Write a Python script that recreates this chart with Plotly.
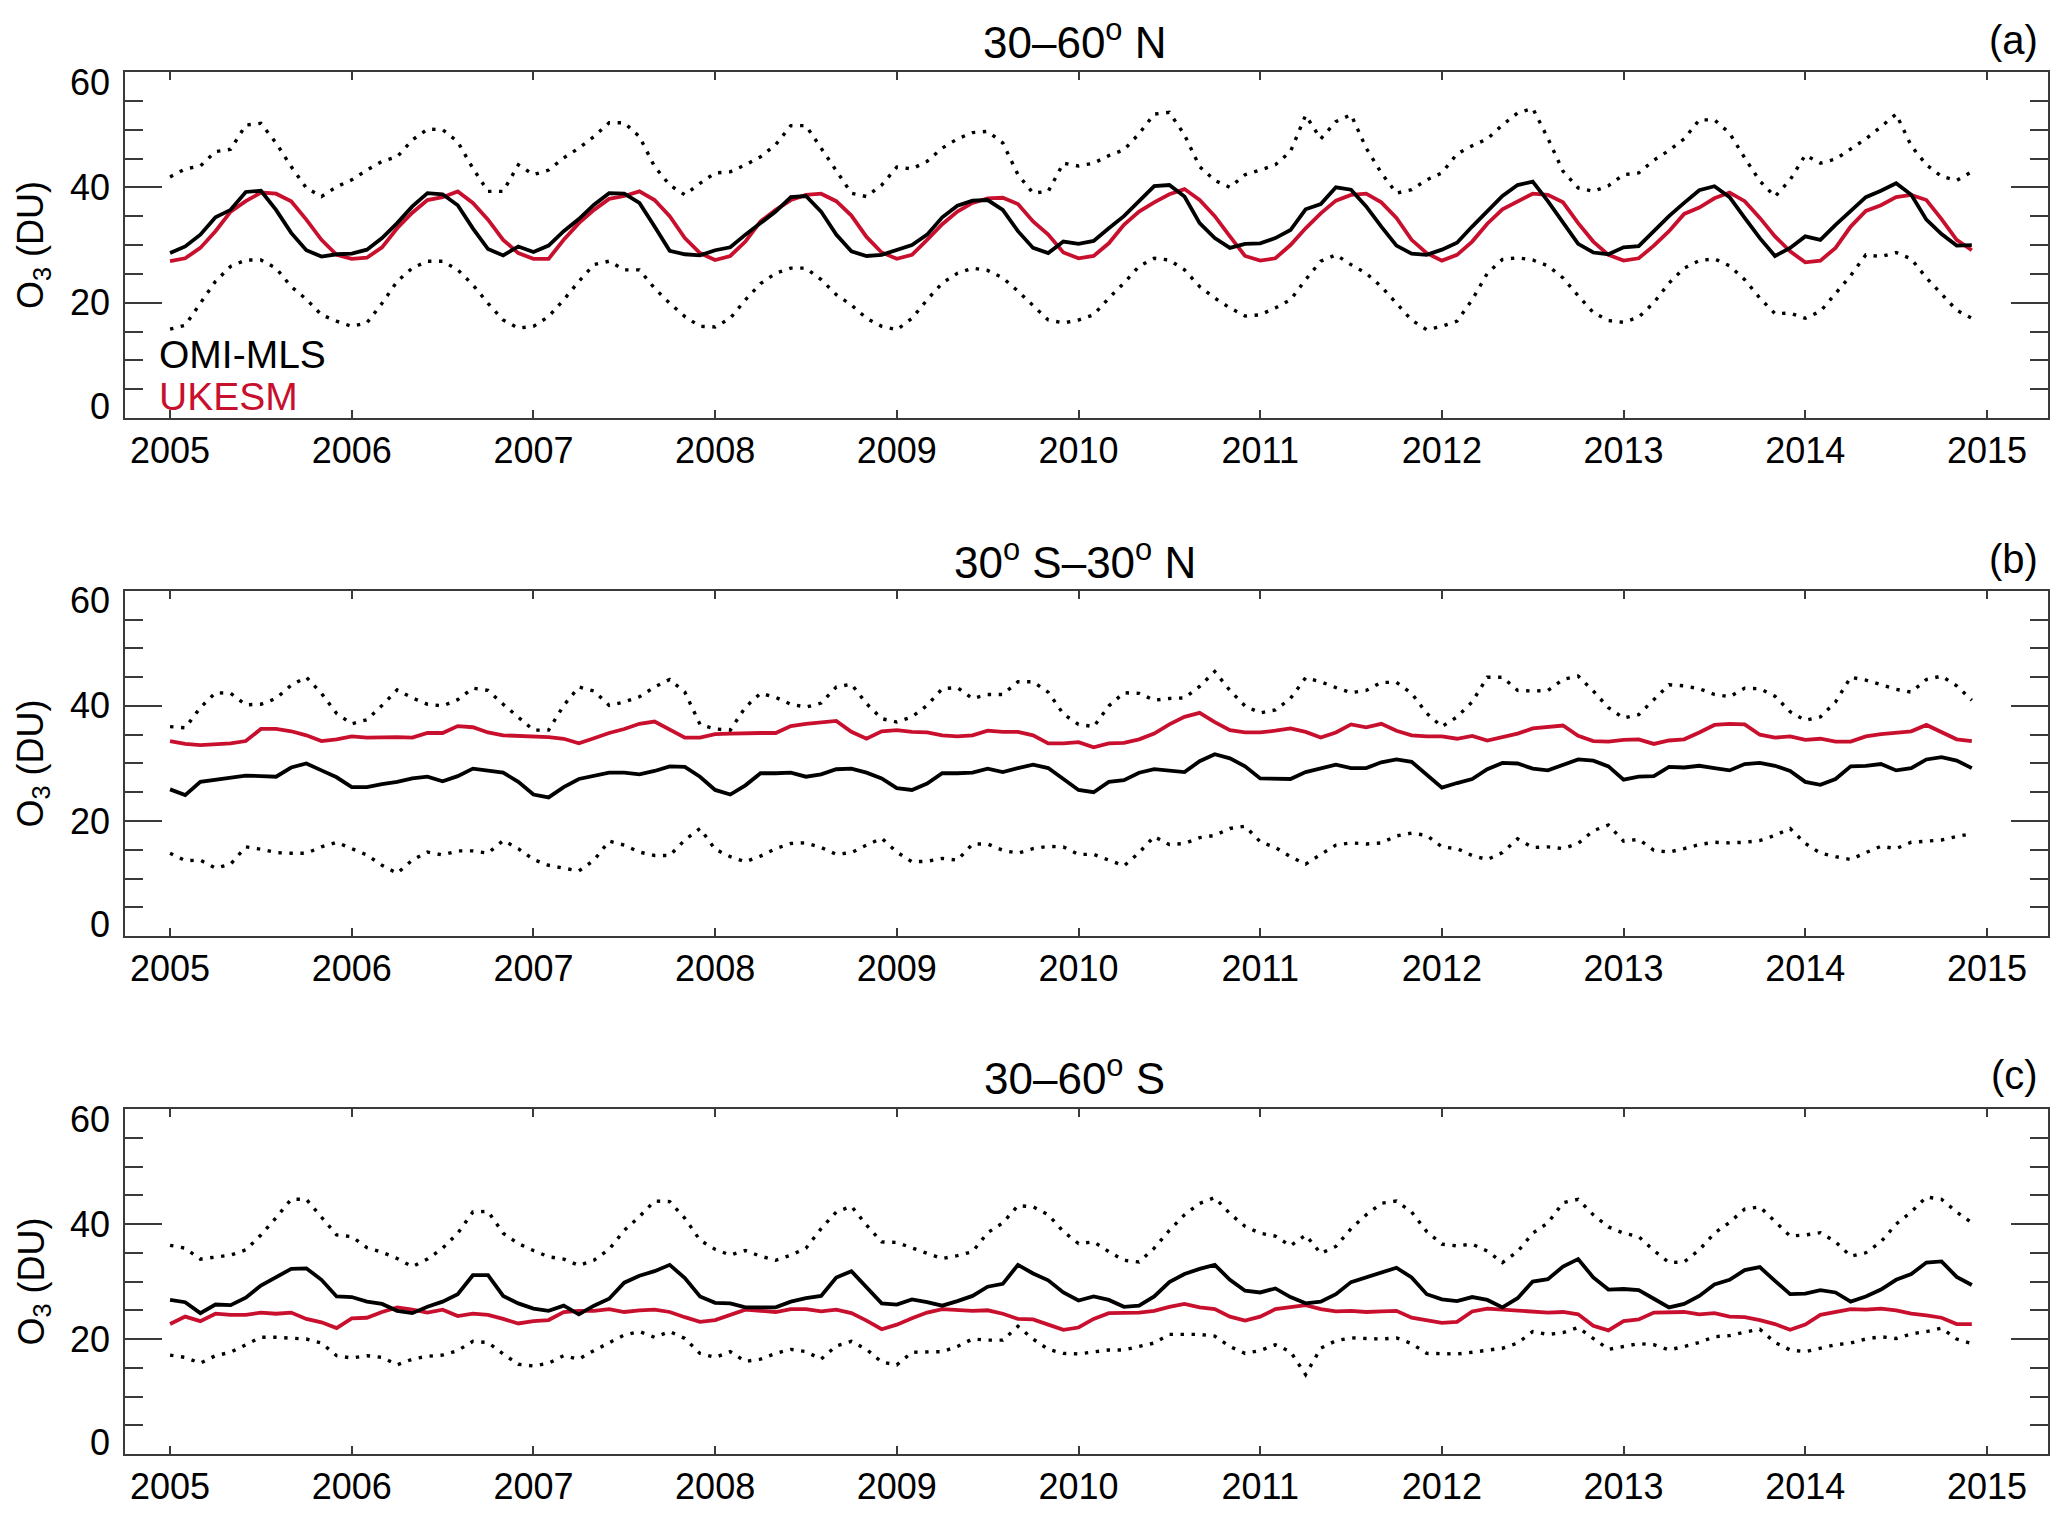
import plotly.graph_objects as go

# ---------------- data (monthly, Jan 2005 - Dec 2014) ----------------
months = [2005 + i / 12 for i in range(120)]
year_ticks = [2005, 2006, 2007, 2008, 2009, 2010, 2011, 2012, 2013, 2014, 2015]
year_labels = [str(y) for y in year_ticks]
y_ticks = [0, 20, 40, 60]

titles = ["30–60<sup>o</sup> N", "30<sup>o</sup> S–30<sup>o</sup> N", "30–60<sup>o</sup> S"]
panel_tags = ["(a)", "(b)", "(c)"]

# Panel (a) 30-60N
a_obs = [28.6, 29.75, 31.8, 34.8, 36.1, 39.2, 39.4, 36.1, 32.1, 29.1, 28.0, 28.4,
         28.5, 29.2, 31.2, 33.8, 36.7, 39.0, 38.8, 36.9, 32.9, 29.3, 28.2, 29.75,
         28.8, 29.9, 32.4, 34.5, 37.0, 39.0, 38.9, 37.3, 33.2, 29.0, 28.4, 28.2,
         29.1, 29.6, 31.8, 33.8, 35.8, 38.3, 38.5, 35.8, 31.8, 28.9, 28.1, 28.3,
         29.2, 30.0, 31.8, 34.8, 36.8, 37.7, 37.8, 36.1, 32.4, 29.5, 28.6, 30.6,
         30.2, 30.7, 32.9, 35.0, 37.6, 40.2, 40.4, 38.4, 33.8, 31.2, 29.5, 30.2,
         30.3, 31.2, 32.6, 36.2, 37.1, 40.0, 39.6, 36.7, 33.2, 29.9, 28.5, 28.3,
         29.2, 30.4, 33.2, 35.8, 38.5, 40.4, 41.0, 37.6, 33.8, 30.2, 28.7, 28.4,
         29.6, 29.8, 32.4, 35.0, 37.3, 39.5, 40.2, 38.3, 34.7, 31.2, 28.1, 29.5,
         31.5, 30.9, 33.5, 35.8, 38.3, 39.4, 40.7, 38.7, 34.4, 31.9, 29.9, 30.0]
a_mod = [27.2, 27.7, 29.5, 32.4, 35.8, 37.6, 39.1, 38.9, 37.6, 34.4, 30.9, 28.3,
         27.6, 27.8, 29.6, 32.9, 35.6, 37.8, 38.3, 39.3, 37.3, 34.4, 30.9, 28.6,
         27.6, 27.6, 30.9, 33.8, 36.1, 38.0, 38.5, 39.3, 37.8, 35.0, 31.2, 28.6,
         27.4, 28.1, 30.6, 34.1, 36.1, 37.8, 38.7, 38.9, 37.6, 35.1, 31.4, 28.7,
         27.6, 28.3, 30.9, 33.6, 35.8, 37.3, 38.1, 38.2, 37.1, 34.1, 31.8, 28.7,
         27.7, 28.1, 30.3, 33.5, 35.8, 37.4, 38.8, 39.7, 37.8, 35.0, 31.5, 28.1,
         27.3, 27.7, 30.0, 32.9, 35.5, 37.7, 38.7, 38.9, 37.4, 34.7, 30.9, 28.6,
         27.3, 28.3, 30.6, 33.7, 36.2, 37.6, 38.9, 38.7, 37.4, 33.8, 30.6, 28.3,
         27.3, 27.7, 29.9, 32.4, 35.4, 36.5, 38.1, 39.1, 37.6, 34.7, 31.5, 28.9,
         27.0, 27.3, 29.5, 33.2, 35.9, 36.9, 38.3, 38.7, 37.8, 34.5, 30.9, 29.1]
a_hi = [41.8, 43.2, 43.7, 46.2, 46.6, 50.8, 51.1, 47.7, 43.6, 39.9, 38.4, 40.1,
        41.3, 43.0, 44.5, 45.3, 48.2, 50.1, 50.0, 47.9, 43.3, 39.3, 39.3, 43.9,
        42.2, 43.0, 45.1, 46.8, 48.8, 51.2, 51.2, 48.8, 43.6, 40.4, 38.7, 40.7,
        42.5, 42.7, 43.9, 45.3, 47.4, 50.7, 50.7, 46.8, 43.0, 39.0, 38.4, 40.4,
        43.5, 43.2, 44.5, 46.8, 48.4, 49.5, 49.7, 47.7, 42.2, 39.0, 39.3, 44.2,
        43.7, 44.2, 45.5, 46.5, 49.3, 52.7, 53.0, 49.1, 43.6, 41.2, 40.0, 42.2,
        43.0, 43.9, 46.2, 52.5, 48.4, 51.4, 52.6, 46.8, 42.5, 39.0, 39.6, 41.3,
        42.5, 45.8, 47.2, 48.4, 50.8, 52.9, 53.7, 48.5, 42.8, 39.9, 39.3, 40.3,
        42.2, 42.5, 44.7, 46.4, 48.4, 51.7, 51.7, 49.4, 45.1, 41.1, 38.4, 41.3,
        45.6, 44.2, 44.9, 46.6, 48.4, 50.5, 52.7, 47.2, 43.9, 41.9, 41.2, 42.7]
a_lo = [15.4, 16.1, 19.9, 23.7, 26.3, 27.4, 27.4, 26.0, 22.8, 20.6, 17.9, 16.8,
        15.9, 16.5, 19.9, 23.7, 26.0, 27.2, 27.2, 25.7, 23.1, 19.9, 17.0, 15.6,
        15.9, 17.6, 20.5, 23.7, 26.6, 27.2, 25.7, 25.7, 22.5, 19.9, 17.6, 15.9,
        15.8, 17.3, 20.5, 23.3, 25.1, 26.0, 26.0, 24.0, 21.4, 19.6, 17.3, 15.9,
        15.3, 17.3, 20.5, 23.4, 25.1, 26.0, 25.6, 24.3, 22.0, 19.4, 17.0, 16.5,
        17.0, 17.9, 20.8, 23.4, 26.3, 27.7, 27.4, 25.7, 22.8, 20.8, 19.1, 17.7,
        17.9, 19.1, 20.5, 24.0, 27.2, 28.3, 26.6, 25.1, 22.8, 19.9, 17.0, 15.3,
        15.9, 16.8, 20.5, 25.1, 27.5, 27.8, 27.4, 26.4, 24.3, 21.2, 18.3, 16.9,
        16.6, 17.5, 20.0, 23.4, 26.0, 27.3, 27.6, 26.4, 24.0, 20.8, 18.1, 18.2,
        17.3, 18.5, 21.7, 24.7, 28.3, 28.0, 28.7, 27.6, 24.3, 21.5, 18.7, 17.3]

# Panel (b) 30S-30N
b_obs = [25.5, 24.5, 26.8, 27.2, 27.5, 27.9, 27.8, 27.7, 29.3, 30.0, 28.8, 27.6,
         25.9, 25.9, 26.4, 26.8, 27.4, 27.7, 26.9, 27.8, 29.1, 28.8, 28.4, 26.8,
         24.6, 24.1, 25.9, 27.3, 27.8, 28.4, 28.4, 28.1, 28.7, 29.5, 29.4, 27.7,
         25.4, 24.6, 26.2, 28.3, 28.3, 28.4, 27.7, 28.1, 29.0, 29.1, 28.4, 27.4,
         25.7, 25.4, 26.5, 28.3, 28.3, 28.4, 29.1, 28.5, 29.2, 29.8, 29.2, 27.2,
         25.4, 25.0, 26.8, 27.1, 28.4, 29.0, 28.7, 28.5, 30.4, 31.6, 30.9, 29.5,
         27.4, 27.3, 27.3, 28.5, 29.2, 29.8, 29.2, 29.2, 30.2, 30.7, 30.3, 28.0,
         25.8, 26.6, 27.3, 29.0, 30.1, 30.0, 29.1, 28.8, 29.8, 30.7, 30.5, 29.5,
         27.2, 27.7, 27.8, 29.4, 29.3, 29.6, 29.2, 28.8, 29.9, 30.1, 29.6, 28.7,
         26.8, 26.3, 27.3, 29.5, 29.6, 29.9, 28.8, 29.2, 30.7, 31.1, 30.5, 29.2]
b_mod = [33.9, 33.4, 33.2, 33.3, 33.5, 33.9, 36.0, 36.0, 35.6, 34.9, 33.9, 34.2,
         34.7, 34.5, 34.6, 34.6, 34.5, 35.3, 35.3, 36.5, 36.3, 35.4, 34.9, 34.8,
         34.7, 34.6, 34.3, 33.5, 34.4, 35.3, 36.0, 36.9, 37.3, 35.9, 34.5, 34.5,
         35.1, 35.2, 35.3, 35.3, 35.3, 36.5, 36.9, 37.2, 37.4, 35.5, 34.3, 35.6,
         35.8, 35.5, 35.4, 34.9, 34.7, 34.9, 35.7, 35.5, 35.5, 34.9, 33.5, 33.5,
         33.7, 32.8, 33.5, 33.6, 34.2, 35.2, 36.8, 38.1, 38.8, 37.2, 35.8, 35.4,
         35.4, 35.7, 36.1, 35.5, 34.5, 35.4, 36.8, 36.3, 36.9, 35.7, 34.9, 34.7,
         34.7, 34.3, 34.8, 34.0, 34.6, 35.2, 36.1, 36.3, 36.6, 34.8, 33.9, 33.8,
         34.1, 34.2, 33.4, 34.0, 34.2, 35.4, 36.7, 36.9, 36.8, 35.0, 34.5, 34.7,
         34.1, 34.3, 33.8, 33.8, 34.7, 35.1, 35.3, 35.6, 36.7, 35.4, 34.2, 33.9]
b_hi = [36.4, 36.2, 39.7, 42.3, 42.2, 40.2, 40.3, 41.3, 43.6, 45.0, 42.2, 38.7,
        36.9, 37.6, 40.1, 42.8, 41.4, 40.3, 40.0, 41.1, 43.1, 42.7, 40.3, 38.1,
        35.8, 35.8, 40.1, 43.3, 42.6, 40.1, 40.7, 41.6, 43.3, 44.6, 42.4, 36.8,
        36.0, 35.8, 39.8, 42.2, 41.5, 40.3, 39.8, 40.5, 43.3, 43.8, 40.4, 37.8,
        37.2, 38.1, 40.1, 43.0, 43.2, 41.3, 42.0, 42.0, 44.2, 44.2, 42.4, 38.6,
        36.8, 36.4, 40.0, 42.3, 42.2, 41.0, 41.3, 41.4, 43.4, 46.0, 42.7, 40.0,
        38.8, 39.3, 41.3, 44.9, 44.2, 43.2, 42.3, 42.7, 44.1, 44.1, 42.2, 38.7,
        36.4, 38.1, 40.7, 45.0, 45.0, 42.7, 42.6, 42.7, 44.6, 45.2, 42.6, 39.7,
        37.9, 38.5, 41.0, 43.7, 43.5, 43.0, 42.0, 41.6, 43.1, 43.0, 41.7, 39.0,
        37.5, 38.1, 40.7, 45.0, 44.5, 43.7, 42.9, 42.4, 44.6, 45.2, 43.5, 41.0]
b_lo = [14.4, 13.1, 13.2, 11.8, 12.5, 15.5, 15.1, 14.5, 14.4, 14.4, 15.5, 16.3,
        15.2, 14.1, 12.3, 10.9, 13.2, 14.6, 14.1, 14.8, 14.8, 14.4, 16.6, 15.2,
        13.3, 12.3, 11.8, 11.3, 13.2, 16.5, 15.8, 14.6, 14.0, 14.0, 16.7, 18.7,
        15.1, 13.8, 12.9, 13.9, 15.2, 16.1, 16.2, 15.4, 14.2, 14.5, 15.8, 17.0,
        14.6, 12.9, 13.0, 13.5, 13.2, 16.0, 16.0, 14.9, 14.4, 15.2, 15.6, 15.5,
        14.2, 14.2, 13.2, 12.2, 14.5, 17.3, 15.9, 16.1, 17.1, 17.5, 18.7, 19.1,
        16.4, 15.4, 13.8, 12.5, 14.2, 15.8, 16.2, 16.0, 16.2, 17.4, 17.9, 17.5,
        15.5, 15.2, 14.0, 13.3, 14.5, 16.9, 15.4, 15.5, 15.2, 16.1, 18.3, 19.3,
        16.5, 16.8, 14.9, 14.6, 15.2, 15.9, 16.3, 16.2, 16.3, 16.6, 17.5, 18.7,
        16.1, 14.4, 13.8, 13.3, 14.5, 15.6, 15.2, 16.3, 16.5, 16.7, 17.3, 17.8]

# Panel (c) 30-60S
c_obs = [26.8, 26.4, 24.5, 26.0, 25.9, 27.2, 29.3, 30.8, 32.2, 32.3, 30.3, 27.4,
         27.3, 26.5, 26.1, 24.9, 24.5, 25.6, 26.5, 27.8, 31.1, 31.1, 27.5, 26.2,
         25.3, 24.9, 25.8, 24.3, 25.8, 27.0, 29.8, 31.0, 31.8, 32.9, 30.6, 27.4,
         26.3, 26.2, 25.5, 25.5, 25.5, 26.5, 27.1, 27.5, 30.7, 31.8, 29.0, 26.2,
         26.0, 26.9, 26.4, 25.8, 26.6, 27.5, 29.1, 29.6, 32.9, 31.4, 30.2, 28.1,
         26.7, 27.4, 26.8, 25.6, 25.8, 27.4, 29.9, 31.3, 32.2, 32.9, 30.3, 28.4,
         28.1, 28.8, 27.3, 26.2, 26.5, 27.8, 29.9, 30.7, 31.6, 32.4, 30.7, 27.8,
         26.9, 26.6, 27.3, 26.8, 25.5, 27.1, 30.0, 30.4, 32.6, 33.9, 30.7, 28.6,
         28.7, 28.5, 27.0, 25.5, 26.1, 27.5, 29.5, 30.3, 32.0, 32.5, 30.1, 27.8,
         27.9, 28.5, 28.1, 26.5, 27.4, 28.6, 30.3, 31.3, 33.3, 33.5, 30.8, 29.4]
c_mod = [22.6, 23.9, 23.1, 24.4, 24.2, 24.2, 24.6, 24.4, 24.6, 23.5, 22.9, 21.9,
         23.6, 23.7, 24.7, 25.5, 25.1, 24.6, 25.1, 24.0, 24.4, 24.2, 23.5, 22.7,
         23.1, 23.3, 24.7, 24.9, 24.9, 25.2, 24.7, 25.0, 25.1, 24.7, 23.8, 23.0,
         23.3, 24.2, 25.1, 24.9, 24.7, 25.2, 25.2, 24.8, 25.1, 24.5, 23.2, 21.7,
         22.5, 23.6, 24.6, 25.2, 25.1, 24.9, 25.0, 24.4, 23.5, 23.4, 22.5, 21.6,
         22.0, 23.5, 24.5, 24.6, 24.6, 24.9, 25.6, 26.1, 25.5, 25.2, 23.9, 23.2,
         23.9, 25.2, 25.6, 25.9, 25.2, 24.8, 24.9, 24.7, 24.8, 24.9, 23.7, 23.2,
         22.8, 23.0, 24.8, 25.3, 25.1, 24.9, 24.7, 24.6, 24.7, 24.3, 22.3, 21.5,
         23.1, 23.4, 24.6, 24.7, 24.7, 24.3, 24.5, 23.9, 23.8, 23.3, 22.6, 21.6,
         22.5, 24.2, 24.7, 25.2, 25.1, 25.3, 25.0, 24.4, 24.1, 23.7, 22.6, 22.6]
c_hi = [36.3, 35.8, 33.9, 34.3, 34.6, 35.5, 38.1, 41.1, 44.3, 44.3, 41.1, 38.1,
        37.8, 35.9, 35.1, 34.0, 32.6, 33.9, 35.8, 38.4, 42.1, 42.2, 38.4, 36.6,
        35.4, 34.3, 33.9, 32.8, 33.7, 35.6, 38.9, 41.3, 44.0, 43.9, 41.0, 37.2,
        35.6, 34.6, 35.4, 34.4, 33.7, 34.6, 35.8, 39.2, 42.1, 43.1, 39.8, 36.9,
        36.8, 35.8, 34.9, 34.0, 34.5, 35.2, 38.5, 40.2, 43.2, 43.0, 41.6, 38.7,
        36.6, 36.9, 35.2, 33.7, 33.4, 35.8, 38.9, 41.6, 43.6, 44.6, 41.8, 39.6,
        38.4, 37.9, 36.2, 38.1, 34.9, 36.1, 39.2, 41.6, 43.6, 44.0, 42.1, 38.7,
        36.5, 36.2, 36.5, 35.3, 33.3, 35.2, 38.4, 40.2, 43.7, 44.3, 41.6, 39.5,
        38.4, 37.8, 35.4, 33.3, 33.4, 35.5, 38.4, 40.3, 42.6, 43.0, 40.4, 37.9,
        38.1, 38.5, 36.9, 34.4, 35.0, 36.9, 40.0, 42.1, 44.7, 44.3, 42.1, 40.2]
c_lo = [17.2, 16.8, 15.8, 17.1, 17.7, 19.0, 20.3, 20.3, 20.1, 20.0, 19.3, 17.1,
        16.7, 17.1, 16.8, 15.5, 16.5, 17.0, 17.2, 18.0, 19.6, 19.4, 17.4, 15.6,
        15.3, 15.8, 17.1, 16.5, 18.0, 19.4, 20.7, 21.3, 20.3, 21.3, 20.1, 17.5,
        16.8, 17.8, 16.1, 16.5, 17.5, 18.2, 17.8, 16.5, 18.8, 19.6, 18.2, 16.0,
        15.5, 17.7, 17.8, 17.8, 18.7, 20.0, 19.8, 19.8, 22.2, 20.0, 18.2, 17.5,
        17.4, 17.8, 18.1, 18.1, 18.7, 19.3, 20.8, 20.8, 20.8, 20.5, 18.7, 17.5,
        18.0, 19.0, 17.8, 13.8, 18.4, 19.7, 20.2, 20.1, 20.0, 20.2, 19.2, 17.5,
        17.4, 17.4, 17.7, 18.1, 18.4, 19.3, 21.3, 20.8, 21.1, 22.0, 20.1, 18.2,
        18.7, 19.2, 19.0, 18.1, 18.7, 19.4, 20.4, 20.6, 21.2, 21.7, 19.4, 18.1,
        17.8, 18.4, 19.0, 19.3, 20.0, 20.4, 20.1, 20.9, 21.3, 21.9, 20.0, 19.2]

panels = [
    (a_obs, a_mod, a_hi, a_lo),
    (b_obs, b_mod, b_hi, b_lo),
    (c_obs, c_mod, c_hi, c_lo),
]

# ---------------- styling ----------------
# the page body adds an 8 px offset; figure is sized so that plot areas land
# at the same pixel positions as in the reference
W, H = 2059, 1511
ML, MR, MT, MB = 117, 19, 64, 65
FONT = "Liberation Sans, Arial, Helvetica, sans-serif"
RED = "#C8102E"
AX = "#3a3a3a"
domains = [[0.7496, 1.0], [0.3748, 0.6245], [0.0, 0.2496]]
title_y = [1.0232, 0.6476, 0.2742]

fig = go.Figure()
annotations = []
for k, (obs, mod, hi, lo) in enumerate(panels):
    xa = "x" if k == 0 else f"x{k+1}"
    ya = "y" if k == 0 else f"y{k+1}"
    for ser, col, dash, w in [(hi, "black", "3.4px,7.6px", 3.4),
                              (lo, "black", "3.4px,7.6px", 3.4),
                              (mod, RED, "solid", 3.8),
                              (obs, "black", "solid", 3.8)]:
        fig.add_trace(go.Scatter(x=months, y=ser, mode="lines", xaxis=xa, yaxis=ya,
                                 line=dict(color=col, width=w, dash=dash),
                                 showlegend=False, hoverinfo="skip"))
    xkey = "xaxis" if k == 0 else f"xaxis{k+1}"
    ykey = "yaxis" if k == 0 else f"yaxis{k+1}"
    fig.update_layout(**{
        xkey: dict(domain=[0, 1], anchor=ya, range=[2004.752, 2015.336],
                   tickmode="array", tickvals=year_ticks, ticktext=year_labels,
                   ticks="inside", ticklen=8, tickwidth=1.5, tickcolor=AX,
                   showline=True, linecolor=AX, linewidth=1.8, mirror="ticks",
                   showgrid=False, zeroline=False,
                   tickfont=dict(family=FONT, size=36, color="black")),
        ykey: dict(domain=domains[k], anchor=xa, range=[0, 60],
                   tickmode="linear", tick0=0, dtick=20,
                   ticks="inside", ticklen=37, tickwidth=1.5, tickcolor=AX,
                   minor=dict(dtick=5, tick0=0, ticks="inside", ticklen=18,
                              tickwidth=1.5, tickcolor=AX),
                   showline=True, linecolor=AX, linewidth=1.8, mirror="ticks",
                   showgrid=False, zeroline=False, showticklabels=False),
    })
    # y tick labels (0 and 60 are tucked inside the frame as in the original)
    for v in y_ticks:
        shift = -10 if v == 60 else (12 if v == 0 else 0)
        annotations.append(dict(x=0, xref="paper", xanchor="right", xshift=-13,
                                y=v, yref=ya, yanchor="middle", yshift=shift,
                                text=str(v), showarrow=False,
                                font=dict(family=FONT, size=36, color="black")))
    # y axis title
    annotations.append(dict(x=-0.0478, xref="paper", xanchor="center",
                            y=30, yref=ya, yanchor="middle",
                            text="O<sub>3</sub> (DU)", textangle=-90, showarrow=False,
                            font=dict(family=FONT, size=36, color="black")))
    # panel title and tag
    annotations.append(dict(x=0.494, xref="paper", xanchor="center",
                            y=title_y[k], yref="paper", yanchor="middle",
                            text=titles[k], showarrow=False,
                            font=dict(family=FONT, size=44, color="black")))
    annotations.append(dict(x=0.9958, xref="paper", xanchor="right",
                            y=title_y[k], yref="paper", yanchor="middle",
                            text=panel_tags[k], showarrow=False,
                            font=dict(family=FONT, size=40, color="black")))

# legend labels in panel (a)
annotations.append(dict(x=2004.93, xref="x", xanchor="left", y=11.1, yref="y",
                        yanchor="middle", text="OMI-MLS", showarrow=False,
                        font=dict(family=FONT, size=39, color="black")))
annotations.append(dict(x=2004.93, xref="x", xanchor="left", y=3.8, yref="y",
                        yanchor="middle", text="UKESM", showarrow=False,
                        font=dict(family=FONT, size=39, color=RED)))

fig.update_layout(width=W, height=H, margin=dict(l=ML, r=MR, t=MT, b=MB),
                  paper_bgcolor="white", plot_bgcolor="white",
                  annotations=annotations, showlegend=False)

fig.write_html("out.html")
